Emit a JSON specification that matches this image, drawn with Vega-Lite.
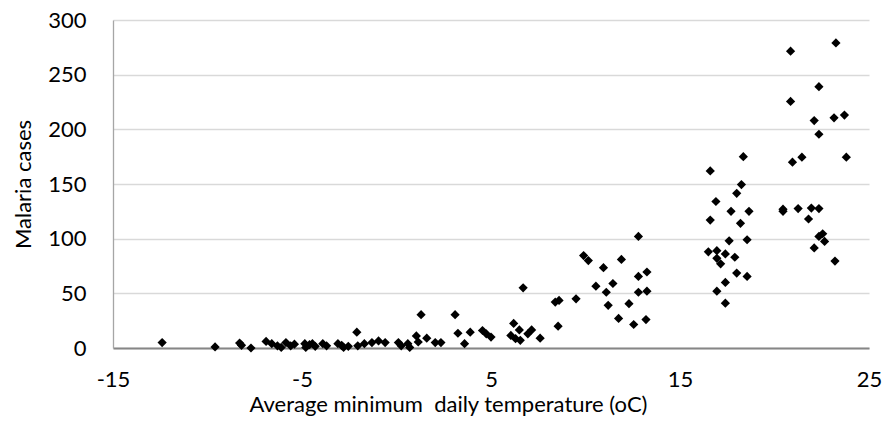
{
  "$schema": "https://vega.github.io/schema/vega-lite/v6.json",
  "width": 756,
  "height": 328,
  "autosize": "none",
  "padding": {"left": 113, "top": 20, "right": 17, "bottom": 89},
  "background": "white",
  "config": {
    "view": {"stroke": null},
    "font": "Lato"
  },
  "data": {
    "values": [
      {"temp": -12.4, "cases": 5}, {"temp": -9.6, "cases": 1}, {"temp": -8.3, "cases": 4.5}, {"temp": -8.2, "cases": 2.5},
      {"temp": -7.7, "cases": 0}, {"temp": -6.9, "cases": 6}, {"temp": -6.6, "cases": 4}, {"temp": -6.3, "cases": 2},
      {"temp": -6.1, "cases": 0.5}, {"temp": -5.85, "cases": 5}, {"temp": -5.6, "cases": 2}, {"temp": -5.4, "cases": 3.5},
      {"temp": -4.85, "cases": 4}, {"temp": -4.8, "cases": 0.5}, {"temp": -4.6, "cases": 3}, {"temp": -4.45, "cases": 4},
      {"temp": -4.3, "cases": 1.5}, {"temp": -3.9, "cases": 4}, {"temp": -3.7, "cases": 2}, {"temp": -3.1, "cases": 4},
      {"temp": -2.9, "cases": 2.5}, {"temp": -2.8, "cases": 0.5}, {"temp": -2.55, "cases": 1.5}, {"temp": -2.1, "cases": 14.5},
      {"temp": -2.05, "cases": 2}, {"temp": -1.7, "cases": 4}, {"temp": -1.3, "cases": 5}, {"temp": -0.95, "cases": 6.5},
      {"temp": -0.6, "cases": 5}, {"temp": 0.1, "cases": 5}, {"temp": 0.25, "cases": 2}, {"temp": 0.6, "cases": 4},
      {"temp": 0.7, "cases": 0.5}, {"temp": 1.05, "cases": 11}, {"temp": 1.15, "cases": 5.5}, {"temp": 1.3, "cases": 30.5},
      {"temp": 1.6, "cases": 9}, {"temp": 2.05, "cases": 5}, {"temp": 2.35, "cases": 5}, {"temp": 3.1, "cases": 30.5},
      {"temp": 3.25, "cases": 13.5}, {"temp": 3.6, "cases": 4}, {"temp": 3.9, "cases": 14.5}, {"temp": 4.55, "cases": 16},
      {"temp": 4.75, "cases": 13}, {"temp": 5.0, "cases": 10}, {"temp": 6.05, "cases": 11.5}, {"temp": 6.2, "cases": 22.5},
      {"temp": 6.3, "cases": 8.5}, {"temp": 6.5, "cases": 16.5}, {"temp": 6.55, "cases": 7}, {"temp": 6.7, "cases": 55},
      {"temp": 6.95, "cases": 13}, {"temp": 7.15, "cases": 16.5}, {"temp": 7.6, "cases": 9}, {"temp": 8.4, "cases": 42},
      {"temp": 8.6, "cases": 43.5}, {"temp": 8.55, "cases": 20}, {"temp": 9.5, "cases": 45}, {"temp": 9.9, "cases": 84.5},
      {"temp": 10.15, "cases": 80}, {"temp": 10.55, "cases": 56.5}, {"temp": 10.95, "cases": 73.5}, {"temp": 11.1, "cases": 51},
      {"temp": 11.2, "cases": 39}, {"temp": 11.45, "cases": 59}, {"temp": 11.75, "cases": 27}, {"temp": 11.9, "cases": 81},
      {"temp": 12.3, "cases": 40.5}, {"temp": 12.55, "cases": 21.5}, {"temp": 12.8, "cases": 102}, {"temp": 12.8, "cases": 65.5},
      {"temp": 12.8, "cases": 51}, {"temp": 13.2, "cases": 26}, {"temp": 13.25, "cases": 69.5}, {"temp": 13.25, "cases": 52},
      {"temp": 16.5, "cases": 88}, {"temp": 16.6, "cases": 162}, {"temp": 16.9, "cases": 134}, {"temp": 16.6, "cases": 117},
      {"temp": 16.95, "cases": 89}, {"temp": 16.95, "cases": 82}, {"temp": 16.95, "cases": 52}, {"temp": 17.15, "cases": 77},
      {"temp": 17.4, "cases": 86}, {"temp": 17.4, "cases": 60}, {"temp": 17.4, "cases": 41}, {"temp": 17.6, "cases": 98},
      {"temp": 17.7, "cases": 125}, {"temp": 17.9, "cases": 83}, {"temp": 18.0, "cases": 141.5}, {"temp": 18.0, "cases": 68.5},
      {"temp": 18.2, "cases": 114}, {"temp": 18.25, "cases": 149.5}, {"temp": 18.35, "cases": 175}, {"temp": 18.55, "cases": 99},
      {"temp": 18.55, "cases": 65.5}, {"temp": 18.65, "cases": 125}, {"temp": 20.45, "cases": 127}, {"temp": 20.45, "cases": 125},
      {"temp": 20.85, "cases": 271.5}, {"temp": 20.85, "cases": 225.5}, {"temp": 20.95, "cases": 170}, {"temp": 21.25, "cases": 127.5},
      {"temp": 21.45, "cases": 174.5}, {"temp": 21.8, "cases": 118}, {"temp": 21.95, "cases": 128}, {"temp": 22.1, "cases": 208},
      {"temp": 22.1, "cases": 91.5}, {"temp": 22.35, "cases": 239}, {"temp": 22.35, "cases": 195.5}, {"temp": 22.35, "cases": 127.5},
      {"temp": 22.35, "cases": 102}, {"temp": 22.55, "cases": 104.5}, {"temp": 22.65, "cases": 97.5}, {"temp": 23.15, "cases": 210.5},
      {"temp": 23.2, "cases": 79.5}, {"temp": 23.25, "cases": 279}, {"temp": 23.7, "cases": 213}, {"temp": 23.8, "cases": 174.5}
    ]
  },
  "mark": {"type": "point", "shape": "diamond", "filled": true, "color": "#000000", "size": 85, "opacity": 1},
  "encoding": {
    "x": {
      "field": "temp",
      "type": "quantitative",
      "scale": {"domain": [-15, 25], "nice": false, "zero": false},
      "axis": {
        "title": "Average minimum\u00a0 daily temperature (oC)",
        "values": [-15, -5, 5, 15, 25],
        "labelExpr": "'' + datum.value",
        "grid": false,
        "ticks": false,
        "domainColor": "#868686",
        "domainWidth": 2,
        "labelFontSize": 22,
        "labelColor": "#000000",
        "labelPadding": 21,
        "labelFlush": false,
        "titleFontSize": 22,
        "titleFontWeight": "normal",
        "titleColor": "#000000",
        "titlePadding": 4,
        "titleX": 335
      }
    },
    "y": {
      "field": "cases",
      "type": "quantitative",
      "scale": {"domain": [0, 300], "nice": false},
      "axis": {
        "title": "Malaria cases",
        "values": [0, 50, 100, 150, 200, 250, 300],
        "grid": true,
        "gridColor": "#d9d9d9",
        "gridWidth": 1.3,
        "ticks": false,
        "domainColor": "#a6a6a6",
        "domainWidth": 1.3,
        "labelFontSize": 22,
        "labelColor": "#000000",
        "labelPadding": 27,
        "labelFlush": false,
        "titleFontSize": 22,
        "titleFontWeight": "normal",
        "titleColor": "#000000",
        "titlePadding": 12
      }
    }
  }
}
